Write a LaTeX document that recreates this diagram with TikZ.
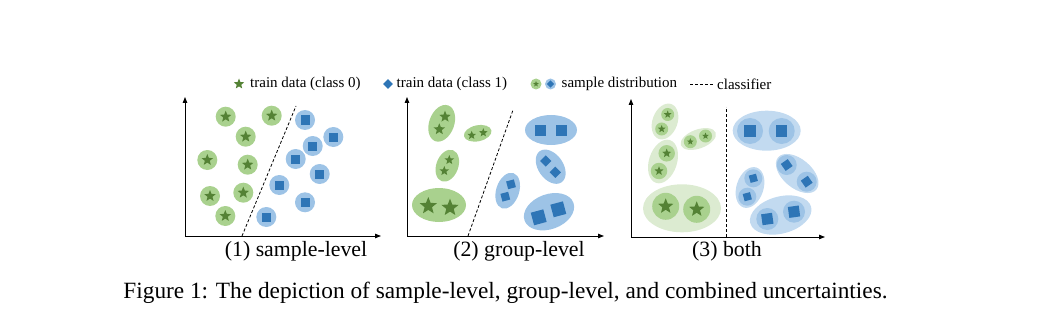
\documentclass[tikz,border=0pt]{standalone}
\usepackage{fontspec}
\setmainfont{Liberation Serif}
\usepackage{tikz}
\usetikzlibrary{shapes.geometric,arrows.meta}
\definecolor{gfill}{HTML}{A9D18E}
\definecolor{gpale}{HTML}{DCEBD1}
\definecolor{gdark}{HTML}{548235}
\definecolor{bfill}{HTML}{9DC3E6}
\definecolor{bpale}{HTML}{C2DAF0}
\definecolor{bdark}{HTML}{2E75B6}
\tikzset{
  >={Triangle[length=6pt,width=4.5pt]},
  gcirc/.style={circle,fill=gfill,minimum size=#1,inner sep=0pt},
  bcirc/.style={circle,fill=bfill,minimum size=#1,inner sep=0pt},
  gstar/.style={star,star points=5,star point ratio=2.3,fill=gdark,minimum size=#1,inner sep=0pt},
  bsq/.style={rectangle,fill=bdark,minimum size=#1,inner sep=0pt},
  gell/.style={ellipse,fill=gfill,inner sep=0pt},
  bell/.style={ellipse,fill=bfill,inner sep=0pt},
  axis/.style={->,line width=0.9pt},
  clf/.style={dashed,line width=0.8pt,dash pattern=on 3pt off 2pt},
  lbl/.style={font=\fontsize{15}{17}\selectfont,anchor=west,inner sep=0pt},
  ttl/.style={font=\fontsize{21.8}{25}\selectfont},
}

\begin{document}
\begin{tikzpicture}[x=1pt,y=-1pt]
\useasboundingbox (0,0) rectangle (1051,310);

% legend
\node[gstar=11pt] (lg) at (239,84) {};
\node[lbl] (lt0) at (250,84) {train data (class 0)};
\node[bsq=7pt,rotate=45] (lb) at (388,84) {};
\node[lbl] (lt1) at (396.5,84) {train data (class 1)};
\node[gcirc=11pt] (lgc) at (536,84) {};
\node[gstar=6pt] at (lgc) {};
\node[bcirc=11pt] (lbc) at (550.5,84) {};
\node[bsq=5pt,rotate=45] at (lbc) {};
\node[lbl] (lsd) at (561.5,84) {sample distribution};
\coordinate (ld0) at (690,84);
\coordinate (ld1) at (714,84);
\draw[clf,line width=0.7pt] (ld0) -- (ld1);
\node[lbl] (lcl) at (717,84) {classifier};

% (1) sample-level
\coordinate (o1) at (185,236);
\coordinate (y1) at (185,97);
\coordinate (x1) at (381,236);
\draw[axis] (o1) -- (y1);
\draw[axis] (o1) -- (x1);
\foreach \x/\y [count=\i] in {225.7/116.7,271.7/115.7,245.7/136.7,207.3/160,
  247.7/164.7,210/196,243.3/192.7,225.3/216}{
  \node[gcirc=20pt] (g\i) at (\x,\y) {};
  \node[gstar=12pt] (gs\i) at (g\i) {};
}
\foreach \x/\y [count=\i] in {305/120,333.3/137,312.7/146,295.7/159,
  319.7/174,279.3/185,305/202.3,266.3/217}{
  \node[bcirc=20pt] (b\i) at (\x,\y) {};
  \node[bsq=9pt] (bs\i) at (b\i) {};
}
\coordinate (c1a) at (242,236);
\coordinate (c1b) at (296,106);
\draw[clf] (c1a) -- (c1b);
\node[ttl] (t1) at (296,251) {(1) sample-level};

% (2) group-level
\coordinate (o2) at (407,236);
\coordinate (y2) at (407,97);
\coordinate (x2) at (604,236);
\draw[axis] (o2) -- (y2);
\draw[axis] (o2) -- (x2);
\node[gell,minimum width=38pt,minimum height=25pt,rotate=70] (ge1) at (441.7,123.3) {};
\node[gstar=12pt] (ge1a) at (445,116.7) {};
\node[gstar=12pt] (ge1b) at (439.3,129.3) {};
\node[gell,minimum width=28pt,minimum height=16pt,rotate=12] (ge2) at (477.7,133.3) {};
\node[gstar=9pt] (ge2a) at (471.7,135.3) {};
\node[gstar=9pt] (ge2b) at (483.3,132.7) {};
\node[gell,minimum width=33pt,minimum height=22pt,rotate=70] (ge3) at (447.3,165.7) {};
\node[gstar=10pt] (ge3a) at (449.3,160) {};
\node[gstar=10pt] (ge3b) at (444.3,171) {};
\node[gell,minimum width=54pt,minimum height=34pt] (ge4) at (439,205) {};
\node[gstar=18pt] (ge4a) at (428.3,206) {};
\node[gstar=18pt] (ge4b) at (450,207.7) {};
\node[bell,minimum width=52pt,minimum height=30pt] (be1) at (551,130) {};
\node[bsq=11pt] (be1a) at (540,130) {};
\node[bsq=11pt] (be1b) at (561.7,130.7) {};
\node[bell,minimum width=38pt,minimum height=25pt,rotate=-55] (be2) at (550.7,166.7) {};
\node[bsq=8pt,rotate=45] (be2a) at (545.7,161) {};
\node[bsq=8pt,rotate=45] (be2b) at (555.3,172.3) {};
\node[bell,minimum width=37pt,minimum height=23pt,rotate=72] (be3) at (507.7,190.7) {};
\node[bsq=8pt,rotate=15] (be3a) at (511,184.3) {};
\node[bsq=8pt,rotate=15] (be3b) at (505.3,196.7) {};
\node[bell,minimum width=52pt,minimum height=35pt,rotate=20] (be4) at (549,211.7) {};
\node[bsq=13pt,rotate=15] (be4a) at (538.7,217.3) {};
\node[bsq=13pt,rotate=15] (be4b) at (558.3,209.3) {};
\coordinate (c2a) at (468,236);
\coordinate (c2b) at (513,110);
\draw[clf] (c2a) -- (c2b);
\node[ttl] (t2) at (519,251) {(2) group-level};

% (3) both
\coordinate (o3) at (631,237);
\coordinate (y3) at (631,99);
\coordinate (x3) at (825,237);
\draw[axis] (o3) -- (y3);
\draw[axis] (o3) -- (x3);
\node[gell,fill=gpale,minimum width=37pt,minimum height=25pt,rotate=70] (hg1) at (665,121.5) {};
\node[gcirc=13pt] (hg1a) at (667.7,114.5) {};
\node[gcirc=13pt] (hg1b) at (661.7,129) {};
\node[gell,fill=gpale,minimum width=37pt,minimum height=19pt,rotate=20] (hg2) at (698.3,139) {};
\node[gcirc=13pt] (hg2a) at (690.3,141.7) {};
\node[gcirc=13pt] (hg2b) at (705.5,136) {};
\node[gell,fill=gpale,minimum width=45pt,minimum height=28pt,rotate=72] (hg3) at (663,161.5) {};
\node[gcirc=16.5pt] (hg3a) at (666.7,153.3) {};
\node[gcirc=16.5pt] (hg3b) at (659,171) {};
\node[gell,fill=gpale,minimum width=78pt,minimum height=48pt] (hg4) at (682,208.3) {};
\node[gcirc=27pt] (hg4a) at (665.7,206.3) {};
\node[gcirc=27pt] (hg4b) at (696.7,209.3) {};
\foreach \n/\s in {hg1a/8pt,hg1b/8pt,hg2a/7pt,hg2b/7pt,hg3a/9.5pt,hg3b/9.5pt,hg4a/16pt,hg4b/16pt}
  \node[gstar=\s] (\n s) at (\n) {};
\node[bell,fill=bpale,minimum width=68pt,minimum height=40pt] (hb1) at (766.7,130.7) {};
\node[bcirc=26pt] (hb1a) at (750,131) {};
\node[bcirc=26pt] (hb1b) at (781.7,131) {};
\node[bell,fill=bpale,minimum width=50pt,minimum height=29pt,rotate=-40] (hb2) at (797.2,173.5) {};
\node[bcirc=20pt] (hb2a) at (786.7,165) {};
\node[bcirc=20pt] (hb2b) at (806.7,181.7) {};
\node[bell,fill=bpale,minimum width=42pt,minimum height=27pt,rotate=72] (hb3) at (750,187.5) {};
\node[bcirc=18pt] (hb3a) at (753.3,178.3) {};
\node[bcirc=18pt] (hb3b) at (747.3,196.7) {};
\node[bell,fill=bpale,minimum width=63pt,minimum height=37pt,rotate=15] (hb4) at (780.7,215) {};
\node[bcirc=22pt] (hb4a) at (767.3,219) {};
\node[bcirc=22pt] (hb4b) at (794,211.7) {};
\node[bsq=11.5pt] (hb1as) at (hb1a) {};
\node[bsq=11.5pt] (hb1bs) at (hb1b) {};
\node[bsq=8.5pt,rotate=35] (hb2as) at (hb2a) {};
\node[bsq=8.5pt,rotate=35] (hb2bs) at (hb2b) {};
\node[bsq=7.5pt,rotate=15] (hb3as) at (hb3a) {};
\node[bsq=7.5pt,rotate=15] (hb3bs) at (hb3b) {};
\node[bsq=11pt,rotate=8] (hb4as) at (hb4a) {};
\node[bsq=11pt,rotate=8] (hb4bs) at (hb4b) {};
\coordinate (c3a) at (726,237);
\coordinate (c3b) at (726,107);
\draw[clf] (c3a) -- (c3b);
\node[ttl] (t3) at (727,251) {(3) both};

% caption
\node[font=\fontsize{23.3}{27}\selectfont] (cap) at (505.5,293)
  {Figure 1: The depiction of sample-level, group-level, and combined uncertainties.};
\end{tikzpicture}
\end{document}
